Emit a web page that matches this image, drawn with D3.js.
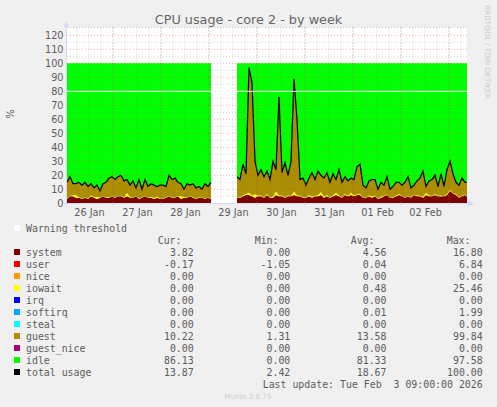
<!DOCTYPE html>
<html><head><meta charset="utf-8">
<script src="https://cdnjs.cloudflare.com/ajax/libs/d3/7.8.5/d3.min.js"></script>
<style>html,body{margin:0;padding:0;background:#f0f0f0}svg{display:block}
.mono{font-family:"DejaVu Sans Mono",monospace;font-size:9.9px;fill:#5c5c5c}
.tick text{font-family:"DejaVu Sans",sans-serif;font-size:9.7px;fill:#5c5c5c}
</style></head><body><svg id="c" width="497" height="407"></svg>
<script>
const title = "CPU usage - core 2 - by week";
const yTicks = d3.range(0, 121, 10);
const totalA = [15,19,14,14,15,13,15,12,14,11,13,9,14,15,18,19,17,19,20,16,17,13,16,11,17,10,17,12,14,13,12,13,13,12,20,17,18,15,14,10,14,13,14,11,12,10,14,12,15];
const systemA = [3,5,5,4,4,3,4,3,5,4,3,4,5,4,4,5,4,5,5,4,5,4,4,5,3,4,5,4,4,3,4,3,3,4,5,4,4,5,3,4,4,5,4,3,4,4,3,4,3];
const iowaitA = [.2,.3,.8,2,.3,.2,.3,.2,.8,.3,1.5,.3,.2,.3,.5,.2,.3,.2,.4,.2,2.5,.3,.2,.3,.5,.2,.3,.2,.5,.8,.8,.3,.2,.3,.2,.3,.2,.3,2,.5,.2,.2,.3,.2,.3,.2,.3,.2,.2];
const totalB = [19,17,28,21,97,86,30,20,24,19,23,17,30,24,76,22,29,20,30,89,60,17,18,13,18,22,17,23,20,18,22,15,21,17,24,15,19,16,18,17,26,28,13,11,16,17,17,10,15,13,19,10,12,15,15,13,15,19,11,13,16,18,23,12,16,17,20,12,21,12,24,30,21,15,13,18,15,15];
const systemB = [4,4,5,6,6,5,4,5,5,4,6,4,4,6,5,5,4,5,5,6,5,5,4,4,5,4,5,5,6,4,5,4,5,6,5,4,6,5,6,5,6,6,4,4,5,4,5,3,4,5,6,4,4,5,6,5,4,5,4,6,5,5,4,6,5,5,6,5,5,5,6,9,7,6,4,5,6,4];
const iowaitB = [.2,.4,.6,.6,1.5,.6,2.5,.6,.6,.4,.6,.2,.6,2.5,.6,.6,.4,.6,.2,2.5,.6,.6,.4,.2,1,.6,.4,1,2,.6,1,.4,.6,1.5,.6,.2,.6,.4,1.5,.6,.4,.6,.2,.2,.6,1,.4,.2,.6,.4,.2,.2,.4,.6,.6,.2,.2,.2,.4,.2,.6,.4,.6,1.5,.6,.2,.6,.4,.6,.2,.6,.6,.2,.4,.2,.4,.2,.2];
const legendNames = ["system","user","nice","iowait","irq","softirq","steal","guest","guest_nice","idle","total usage"];
const legendColors = ["#7f0000","#ff0000","#ff9900","#ffff00","#0000ff","#00aaff","#00ffff","#ab8f00","#aa0077","#00ff00","#000000"];
const curVals = ["3.82","-0.17","0.00","0.00","0.00","0.00","0.00","10.22","0.00","86.13","13.87"];
const minVals = ["0.00","-1.05","0.00","0.00","0.00","0.00","0.00","1.31","0.00","0.00","2.42"];
const avgVals = ["4.56","0.04","0.00","0.48","0.00","0.01","0.00","13.58","0.00","81.33","18.67"];
const maxVals = ["16.80","6.84","0.00","25.46","0.00","1.99","0.00","99.84","0.00","97.58","100.00"];
const warning = 80;
const startA = Date.UTC(2026,0,26,1), startB = Date.UTC(2026,0,29,14), endT = Date.UTC(2026,1,3,9), stepMs = 90*60*1000;

const svg = d3.select("#c");
const L=67,R=467,T=27.5,B=203.3;
const x = d3.scaleUtc().domain([startA,endT]).range([L,R]);
const y = d3.scaleLinear().domain([0,125]).range([B,B-125*1.4]);
svg.append("rect").attr("x",L).attr("y",T).attr("width",R-L).attr("height",B-T).attr("fill","#fff");
svg.append("clipPath").attr("id","pc").append("rect").attr("x",L).attr("y",T).attr("width",R-L).attr("height",B-T);

const keys=["system","iowait","guest","idle"];
const fills={system:"#7f0000",iowait:"#ffff00",guest:"#ab8f00",idle:"#00ff00"};
function rows(start,tot,sys,io){return tot.map((t,i)=>({t:start+i*stepMs,total:t,system:sys[i],iowait:io[i],guest:t-sys[i]-io[i],idle:100-t}));}
const plot=svg.append("g").attr("clip-path","url(#pc)");
[rows(startA,totalA,systemA,iowaitA),rows(startB,totalB,systemB,iowaitB)].forEach(data=>{
  const st=d3.stack().keys(keys)(data);
  const area=d3.area().x(d=>x(d.data.t)).y0(d=>y(d[0])).y1(d=>y(d[1]));
  plot.append("g").selectAll("path").data(st).join("path").attr("fill",d=>fills[d.key]).attr("d",area);
  plot.append("path").datum(data).attr("fill","none").attr("stroke","#000").attr("stroke-width",1.25)
    .attr("d",d3.line().x(d=>x(d.t)).y(d=>y(d.total)));
});

// grid on top of data
const grid=svg.append("g");
const minorY=d3.range(5,125,10), hours=d3.utcHour.every(6).range(new Date(startA),new Date(endT)), days=d3.utcDay.range(new Date(startA),new Date(endT));
const dash="1,2";
grid.selectAll(".gy").data(minorY).join("line").attr("x1",L).attr("x2",R).attr("y1",d=>y(d)).attr("y2",d=>y(d))
  .attr("stroke","rgba(120,120,120,.32)").attr("stroke-dasharray",dash);
grid.selectAll(".gx").data(hours).join("line").attr("x1",d=>x(d)).attr("x2",d=>x(d)).attr("y1",T).attr("y2",B)
  .attr("stroke","rgba(120,120,120,.32)").attr("stroke-dasharray",dash);
grid.selectAll(".my").data(yTicks.slice(1)).join("line").attr("x1",L).attr("x2",R+2).attr("y1",d=>y(d)).attr("y2",d=>y(d))
  .attr("stroke","rgba(220,70,50,.42)").attr("stroke-dasharray",dash);
grid.selectAll(".mx").data(days).join("line").attr("x1",d=>x(d)).attr("x2",d=>x(d)).attr("y1",T).attr("y2",B+2)
  .attr("stroke","rgba(220,70,50,.42)").attr("stroke-dasharray",dash);
grid.append("line").attr("x1",L).attr("x2",R).attr("y1",T).attr("y2",T).attr("stroke","rgba(120,120,120,.4)").attr("stroke-dasharray",dash);

// warning line
svg.append("line").attr("x1",L).attr("x2",R).attr("y1",y(warning)).attr("y2",y(warning)).attr("stroke","#fff").attr("stroke-width",1);

// axes
const ya=d3.axisLeft(y).tickValues(yTicks).tickSize(0).tickPadding(3);
const yg=svg.append("g").attr("transform",`translate(${L-.5},0)`).call(ya); yg.select(".domain").remove();
const noons=d3.utcDay.range(d3.utcDay.floor(new Date(startA)),new Date(endT)).map(d=>d3.utcHour.offset(d,12)).filter(d=>+d<endT-12*3600e3);
const xa=d3.axisBottom(x).tickValues(noons).tickFormat(d3.utcFormat("%d %b")).tickSize(0).tickPadding(6);
const xg=svg.append("g").attr("transform",`translate(0,${B})`).call(xa); xg.select(".domain").remove();
const ax="#d3daf7";
svg.append("line").attr("x1",L-.5).attr("x2",L-.5).attr("y1",B+3).attr("y2",26).attr("stroke",ax);
svg.append("line").attr("x1",L-3).attr("x2",470).attr("y1",B+.2).attr("y2",B+.2).attr("stroke",ax);
svg.append("path").attr("d",`M${L-3.5},27L${L-.5},21.5L${L+2.5},27Z`).attr("fill",ax);
svg.append("path").attr("d",`M468,${B-3}L474,${B+.2}L468,${B+3.4}Z`).attr("fill",ax);

// text
svg.append("text").attr("x",248.5).attr("y",24).attr("text-anchor","middle").attr("font-family","DejaVu Sans").attr("font-size",12.8).attr("fill","#666").text(title);
svg.append("text").attr("transform","translate(14,114) rotate(-90)").attr("text-anchor","middle").attr("font-family","DejaVu Sans").attr("font-size",10).attr("fill","#555").text("%");
svg.append("text").attr("transform","translate(485,5) rotate(90)").attr("font-family","DejaVu Sans").attr("font-size",7.3).attr("fill","#ccc").text("RRDTOOL / TOBI OETIKER");
svg.append("text").attr("x",248).attr("y",399).attr("text-anchor","middle").attr("font-family","DejaVu Sans").attr("font-size",7.2).attr("fill","#ccc").text("Munin 2.0.75");

// legend
const rowY=i=>232+12*i;
const mono=(t,xp,yp,anchor)=>svg.append("text").attr("class","mono").attr("x",xp).attr("y",yp).attr("text-anchor",anchor||"start").text(t);
svg.append("rect").attr("x",14).attr("y",225).attr("width",6).attr("height",6).attr("fill","#fff");
mono("Warning threshold",26,rowY(0));
[["Cur:",181.5],["Min:",278.5],["Avg:",374.5],["Max:",470.5]].forEach(h=>mono(h[0],h[1],rowY(1),"end"));
const colR=[193.7,290.3,386.5,482.7];
legendNames.forEach((n,i)=>{
  const r=i+2;
  svg.append("rect").attr("x",14).attr("y",rowY(r)-7).attr("width",6).attr("height",6).attr("fill",legendColors[i]);
  mono(n,26,rowY(r));
  [curVals,minVals,avgVals,maxVals].forEach((c,j)=>mono(c[i],colR[j],rowY(r),"end"));
});
mono("Last update: Tue Feb  3 09:00:00 2026",482.7,rowY(13),"end").style("white-space","pre");
</script></body></html>
